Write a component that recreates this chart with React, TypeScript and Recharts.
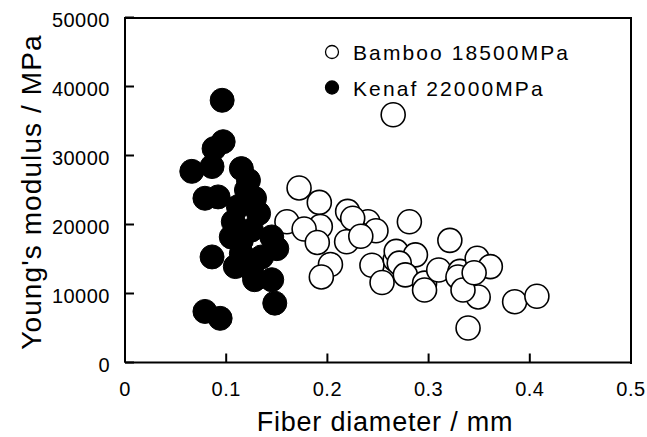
import { ScatterChart, Scatter, XAxis, YAxis, Legend } from 'recharts';

const bambooDiameter = [
  0.265, 0.172, 0.192, 0.22, 0.16, 0.193, 0.177, 0.19, 0.24, 0.248, 0.23, 0.219, 0.225, 0.233,
  0.203, 0.194, 0.244, 0.254, 0.267, 0.268, 0.281, 0.321, 0.287, 0.271, 0.277, 0.296, 0.296,
  0.31, 0.331, 0.329, 0.348, 0.361, 0.349, 0.334, 0.339, 0.385, 0.407, 0.345,
];
const bambooModulus = [
  35900, 25300, 23200, 21900, 20400, 19700, 19350, 17400, 20400, 19100, 18700, 17500, 20900, 18300,
  14200, 12400, 14100, 11600, 14900, 16100, 20400, 17700, 15600, 14400, 12700, 11500, 10500,
  13400, 13200, 12400, 15100, 13900, 9500, 10500, 5000, 8800, 9600, 13000,
];

const kenafDiameter = [
  0.096, 0.097, 0.088, 0.066, 0.086, 0.115, 0.122, 0.079, 0.092, 0.128, 0.107, 0.132, 0.145,
  0.15, 0.086, 0.109, 0.128, 0.145, 0.148, 0.079, 0.094, 0.115, 0.125, 0.115, 0.135, 0.125,
  0.105, 0.112, 0.12,
];
const kenafModulus = [
  38000, 32000, 31000, 27700, 28400, 28100, 26400, 23800, 24000, 23800, 20400, 21600, 18200,
  16500, 15300, 13900, 12000, 12000, 8600, 7400, 6400, 17700, 19200, 15800, 15300, 13400,
  18200, 22600, 25000,
];

const xTicks = [0, 0.1, 0.2, 0.3, 0.4, 0.5];
const yTicks = [0, 10000, 20000, 30000, 40000, 50000];

const legendItems = [
  { name: 'Bamboo 18500MPa', filled: false },
  { name: 'Kenaf 22000MPa', filled: true },
];

const bamboo = bambooDiameter.map((d, i) => ({ d, e: bambooModulus[i] }));
const kenaf = kenafDiameter.map((d, i) => ({ d, e: kenafModulus[i] }));

const FONT = '"Liberation Sans", Arial, sans-serif';
const WIDTH = 647;
const HEIGHT = 437;
const MARGIN = { top: 17.5, right: 16, bottom: 14.5, left: 0 };
const Y_AXIS_W = 125;
const X_AXIS_H = 60;
const PLOT_X = MARGIN.left + Y_AXIS_W;
const PLOT_Y = MARGIN.top;
const PLOT_W = WIDTH - MARGIN.left - MARGIN.right - Y_AXIS_W;
const PLOT_H = HEIGHT - MARGIN.top - MARGIN.bottom - X_AXIS_H;

const XTick = (props: any) => {
  const { x, y, payload } = props;
  return (
    <g>
      <line x1={x} y1={y} x2={x} y2={y - 9} stroke="#000" strokeWidth={2} />
      <text x={x} y={y + 33} textAnchor="middle" fontSize={20} fontFamily={FONT} letterSpacing={0.5} fill="#000">
        {String(payload.value)}
      </text>
    </g>
  );
};

const YTick = (props: any) => {
  const { x, y, payload } = props;
  return (
    <g>
      <line x1={x} y1={y} x2={x + 9} y2={y} stroke="#000" strokeWidth={2} />
      <text x={x - 15} y={y + 9} textAnchor="end" fontSize={20} fontFamily={FONT} letterSpacing={0.5} fill="#000">
        {String(payload.value)}
      </text>
    </g>
  );
};

const openDot = (p: any) => <circle cx={p.cx} cy={p.cy} r={12} fill="#fff" stroke="#000" strokeWidth={1.6} />;
const filledDot = (p: any) => <circle cx={p.cx} cy={p.cy} r={12} fill="#000" stroke="#000" strokeWidth={1} />;

const renderLegend = () => (
  <svg width={270} height={75} style={{ display: 'block' }}>
    {legendItems.map((item, i) => (
      <g key={item.name}>
        <circle
          cx={12}
          cy={17 + i * 35.5}
          r={6.5}
          fill={item.filled ? '#000' : '#fff'}
          stroke="#000"
          strokeWidth={1.3}
        />
        <text x={33} y={25 + i * 36} fontSize={21} fontFamily={FONT} letterSpacing={2.1} fill="#000">
          {item.name}
        </text>
      </g>
    ))}
  </svg>
);

export default function App() {
  return (
    <div style={{ position: 'absolute', left: 0, top: 0, width: WIDTH, height: HEIGHT, background: '#fff' }}>
      <ScatterChart width={WIDTH} height={HEIGHT} margin={MARGIN}>
        <XAxis
          type="number"
          dataKey="d"
          domain={[0, 0.5]}
          ticks={xTicks}
          tick={<XTick />}
          tickLine={false}
          tickSize={0}
          tickMargin={0}
          height={X_AXIS_H}
          interval={0}
          axisLine={{ stroke: '#000', strokeWidth: 2 }}
          label={{
            content: () => (
              <text x={385} y={431} textAnchor="middle" fontSize={27} fontFamily={FONT} letterSpacing={0.8} fill="#000">
                Fiber diameter / mm
              </text>
            ),
          }}
        />
        <YAxis
          type="number"
          dataKey="e"
          domain={[0, 50000]}
          ticks={yTicks}
          tick={<YTick />}
          tickLine={false}
          tickSize={0}
          tickMargin={0}
          width={Y_AXIS_W}
          interval={0}
          axisLine={{ stroke: '#000', strokeWidth: 2 }}
          label={{
            content: () => (
              <text
                x={41}
                y={192}
                transform="rotate(-90 41 192)"
                textAnchor="middle"
                fontSize={28}
                fontFamily={FONT}
                letterSpacing={1.1}
                fill="#000"
              >
                Young's modulus / MPa
              </text>
            ),
          }}
        />
        <Legend
          layout="horizontal"
          verticalAlign="middle"
          align="center"
          content={renderLegend}
          wrapperStyle={{ left: 320, top: 35, width: 270, height: 75 }}
        />
        <Scatter name="Bamboo 18500MPa" data={bamboo} shape={openDot} isAnimationActive={false} />
        <Scatter name="Kenaf 22000MPa" data={kenaf} shape={filledDot} isAnimationActive={false} />
      </ScatterChart>
      {/* top and right edges of the plot frame */}
      <div
        style={{
          position: 'absolute',
          left: PLOT_X - 1,
          top: PLOT_Y - 1,
          width: PLOT_W,
          height: PLOT_H,
          borderTop: '2px solid #000',
          borderRight: '2px solid #000',
          pointerEvents: 'none',
        }}
      />
    </div>
  );
}
